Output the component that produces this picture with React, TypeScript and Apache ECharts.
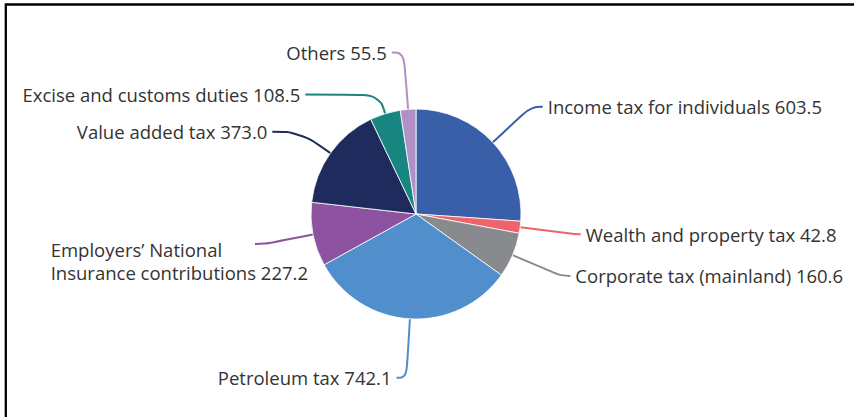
import React, { useEffect, useRef } from "react";
import * as echarts from "echarts";

const categories = [
  "Income tax for individuals",
  "Wealth and property tax",
  "Corporate tax (mainland)",
  "Petroleum tax",
  "Employers’ National\nInsurance contributions",
  "Value added tax",
  "Excise and customs duties",
  "Others",
];
const values = [603.5, 42.8, 160.6, 742.1, 227.2, 373.0, 108.5, 55.5];
const colors = [
  "#3a5fa9",
  "#f0636a",
  "#898a8e",
  "#508fcc",
  "#8d53a1",
  "#1f2a5d",
  "#188581",
  "#b190c6",
];

// connector styling per slice: [length, length2]
const connectorLengths = [
  [52, 12],
  [55, 6],
  [53, 9],
  [59, 10],
  [49, 10],
  [37, 28],
  [20, 74],
  [57, 12],
];

export default function App() {
  const ref = useRef<HTMLDivElement>(null);
  useEffect(() => {
    if (!ref.current) return;
    const chart = echarts.init(ref.current, undefined, { renderer: "svg" });
    chart.setOption({
      animation: false,
      backgroundColor: "#ffffff",
      graphic: [
        {
          type: "rect",
          shape: { x: 5.8, y: 4.5, width: 1200, height: 1200 },
          style: { fill: "none", stroke: "#000", lineWidth: 2.3 },
          silent: true,
        },
      ],
      series: [
        {
          type: "pie",
          center: [416, 214],
          radius: 105,
          startAngle: 90,
          clockwise: true,
          avoidLabelOverlap: false,
          itemStyle: { borderColor: "#ffffff", borderWidth: 0.8 },
          label: {
            show: true,
            color: "#333333",
            fontFamily: "Open Sans",
            fontSize: 18.5,
            lineHeight: 23,
            overflow: "none",
            distanceToLabelLine: 5,
            formatter: (p: any) =>
              p.name
                .split("\n")
                .map((s: string, i: number, arr: string[]) =>
                  i === arr.length - 1 ? `{n|${s} ${p.value.toFixed(1)}}` : `{n|${s}}`
                )
                .join("\n"),
            rich: {
              n: {
                align: "left",
                color: "#333333",
                fontFamily: "Open Sans",
                fontSize: 18.5,
                lineHeight: 23,
              },
            },
          },
          labelLine: {
            show: true,
            length: 48,
            length2: 14,
            smooth: 0.45,
            lineStyle: { width: 2 },
          },
          data: categories.map((c, i) => ({
            name: c,
            value: values[i],
            itemStyle: { color: colors[i] },
            labelLine: {
              length: connectorLengths[i][0],
              length2: connectorLengths[i][1],
            },
            label: i === 4 ? { offset: [58, 17] } : {},
          })),
        },
      ],
    });
    return () => chart.dispose();
  }, []);
  return (
    <div
      ref={ref}
      style={{ position: "fixed", left: 0, top: 0, width: 854, height: 417 }}
    />
  );
}
